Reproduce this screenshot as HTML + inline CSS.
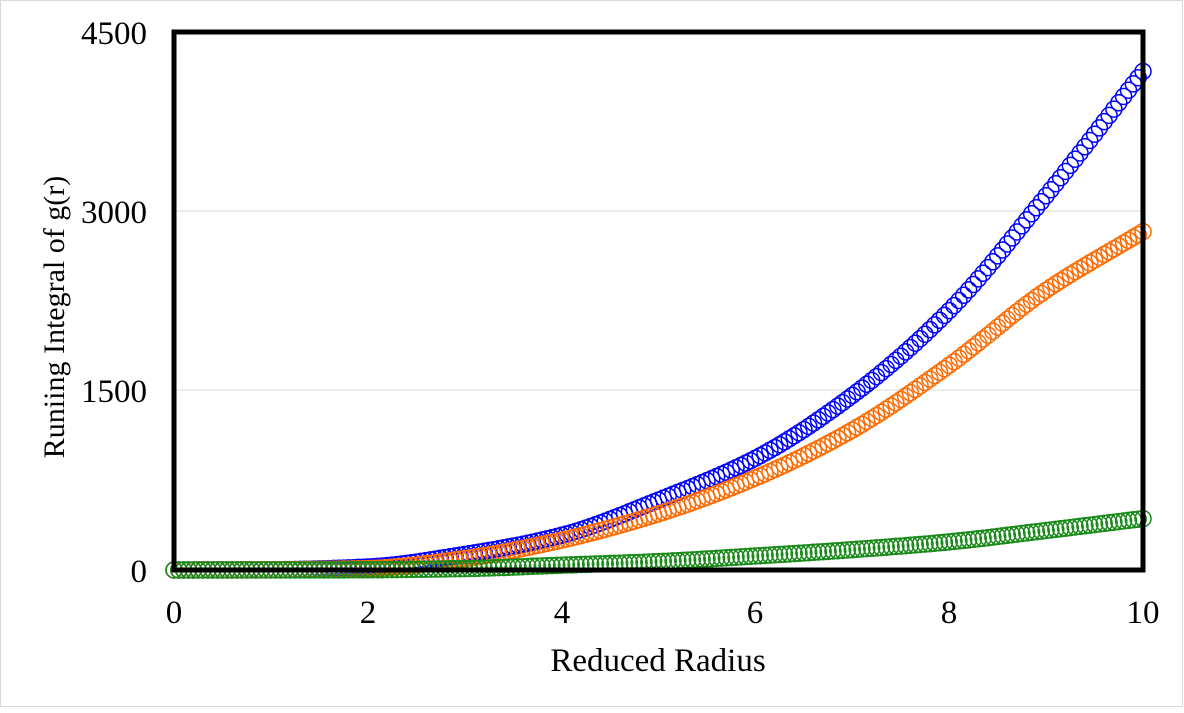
<!DOCTYPE html>
<html><head><meta charset="utf-8"><style>
html,body{margin:0;padding:0;background:#fff}
svg text{font-family:"Liberation Serif",serif;fill:#000}
</style></head><body>
<svg id="s" width="1184" height="708" xmlns="http://www.w3.org/2000/svg">
<rect x="0.5" y="0.5" width="1182" height="706" fill="#fff" stroke="#d9d9d9"/>
<line x1="174" y1="211" x2="1143" y2="211" stroke="#d9d9d9" stroke-width="1"/>
<line x1="174" y1="390" x2="1143" y2="390" stroke="#d9d9d9" stroke-width="1"/>
<g id="pts" fill="none" stroke-width="1.5"></g>
<rect x="174" y="32" width="969" height="538" fill="none" stroke="#000" stroke-width="5"/>
<g font-size="33" text-anchor="end">
<text x="147" y="44">4500</text>
<text x="147" y="223">3000</text>
<text x="147" y="402">1500</text>
<text x="147" y="582">0</text>
</g>
<g font-size="33" text-anchor="middle">
<text x="174" y="623">0</text>
<text x="368" y="623">2</text>
<text x="562" y="623">4</text>
<text x="755" y="623">6</text>
<text x="949" y="623">8</text>
<text x="1143" y="623">10</text>
<text x="658" y="671">Reduced Radius</text>
<text font-size="30" transform="translate(64,317) rotate(-90)">Runiing Integral of g(r)</text>
</g>
</svg>
<script>
var series=[
 ["#0000ff",[[0,0],[1,2],[2,25],[3,130],[4,290],[5,585],[6,935],[7,1460],[8,2170],[9,3130],[10,4170]]],
 ["#ff6a00",[[0,0],[1,2],[2,12],[3,95],[4,250],[5,470],[6,770],[7,1170],[8,1713],[9,2340],[10,2830]]],
 ["#1a8a1a",[[0,0],[1,0],[2,2],[3,12],[4,40],[5,70],[6,117],[7,170],[8,235],[9,330],[10,430]]]
];
function f(p,x){var n=p.length,d=[],m=[];
for(var i=0;i<n-1;i++)d.push(p[i+1][1]-p[i][1]);
for(var i=0;i<n;i++){if(i==0)m.push(d[0]);else if(i==n-1)m.push(d[n-2]);else m.push(d[i-1]*d[i]<=0?0:2*d[i-1]*d[i]/(d[i-1]+d[i]));}
var i=Math.min(Math.floor(x),n-2),t=x-i,t2=t*t,t3=t2*t;
return (2*t3-3*t2+1)*p[i][1]+(t3-2*t2+t)*m[i]+(-2*t3+3*t2)*p[i+1][1]+(t3-t2)*m[i+1];}
var g=document.getElementById("pts"),h="";
series.forEach(function(s){for(var k=0;k<=200;k++){var x=k*0.05,v=Math.max(0,f(s[1],x));
h+='<circle cx="'+(174+x*96.9).toFixed(1)+'" cy="'+(570-v*0.11956).toFixed(1)+'" r="8" stroke="'+s[0]+'"/>';}});
g.innerHTML=h;
</script>
</body></html>
